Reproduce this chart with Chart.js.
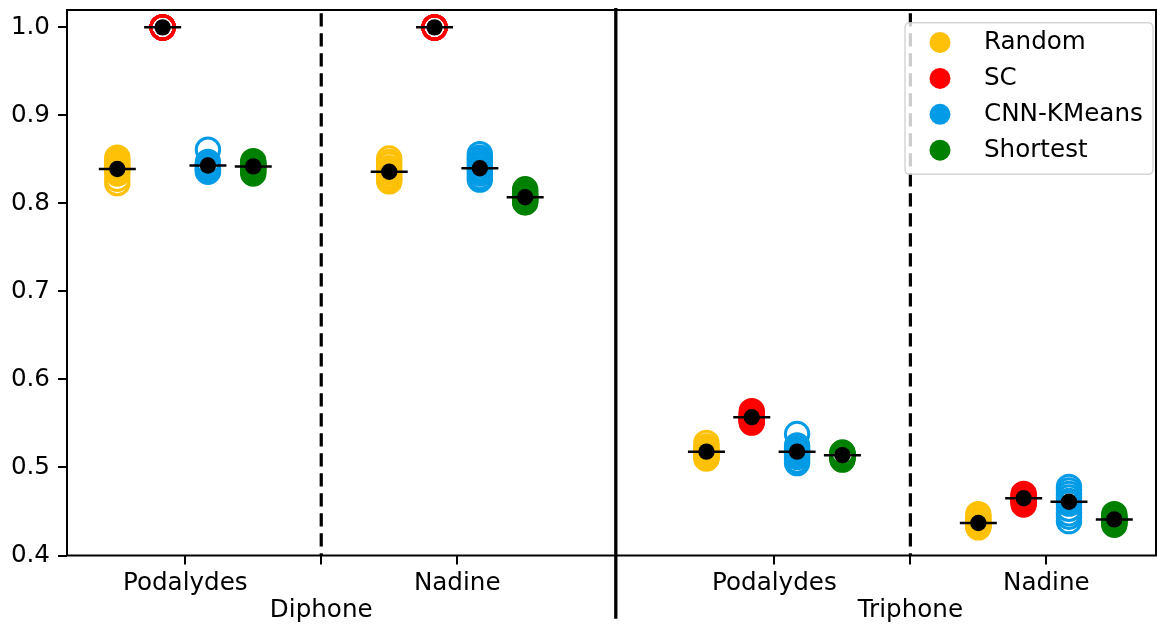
<!DOCTYPE html>
<html><head><meta charset="utf-8">
<script src="https://cdn.jsdelivr.net/npm/chart.js@4/dist/chart.umd.min.js"></script>
<style>html,body{margin:0;padding:0;background:#fff;overflow:hidden}</style>
</head><body>
<canvas id="c" width="1157" height="626"></canvas>
<script>
// ---- data ----
const groupNames = ['Podalydes', 'Nadine', 'Podalydes', 'Nadine'];
const sectionNames = ['Diphone', 'Triphone'];
const methods = ['Random', 'SC', 'CNN-KMeans', 'Shortest'];
const yTicks = [0.4, 0.5, 0.6, 0.7, 0.8, 0.9, 1.0];

// runs per group: [Diphone-Podalydes, Diphone-Nadine, Triphone-Podalydes, Triphone-Nadine]
const randomRuns = [
  [0.852, 0.849, 0.846, 0.843, 0.841, 0.839, 0.837, 0.834, 0.828, 0.823],
  [0.851, 0.847, 0.844, 0.840, 0.837, 0.835, 0.832, 0.830, 0.827, 0.825],
  [0.528, 0.524, 0.521, 0.519, 0.517, 0.515, 0.514, 0.512, 0.511, 0.510],
  [0.447, 0.444, 0.441, 0.439, 0.437, 0.436, 0.435, 0.434, 0.433, 0.432]
];
const scRuns = [
  [1.0, 1.0, 1.0, 1.0, 1.0, 1.0, 1.0, 1.0, 1.0, 1.0],
  [1.0, 1.0, 1.0, 1.0, 1.0, 1.0, 1.0, 1.0, 1.0, 1.0],
  [0.564, 0.561, 0.559, 0.557, 0.556, 0.555, 0.554, 0.553, 0.552, 0.551],
  [0.470, 0.468, 0.467, 0.465, 0.464, 0.463, 0.462, 0.461, 0.460, 0.458]
];
const cnnRuns = [
  [0.861, 0.847, 0.845, 0.844, 0.842, 0.840, 0.839, 0.838, 0.837, 0.836],
  [0.856, 0.852, 0.849, 0.846, 0.843, 0.840, 0.837, 0.834, 0.830, 0.827],
  [0.538, 0.525, 0.522, 0.520, 0.518, 0.516, 0.514, 0.512, 0.508, 0.505],
  [0.478, 0.474, 0.470, 0.466, 0.462, 0.459, 0.453, 0.448, 0.444, 0.439]
];
const shortestRuns = [
  [0.848, 0.846, 0.845, 0.843, 0.842, 0.841, 0.840, 0.838, 0.836, 0.834],
  [0.816, 0.813, 0.811, 0.809, 0.807, 0.806, 0.805, 0.804, 0.802, 0.801],
  [0.517, 0.516, 0.515, 0.514, 0.513, 0.513, 0.512, 0.511, 0.510, 0.509],
  [0.447, 0.445, 0.443, 0.442, 0.441, 0.440, 0.439, 0.438, 0.436, 0.435]
];
const randomMean   = [0.839, 0.836, 0.518, 0.437];
const scMean       = [1.000, 1.000, 0.557, 0.465];
const cnnMean      = [0.843, 0.840, 0.518, 0.461];
const shortestMean = [0.842, 0.807, 0.514, 0.441];

// ---- layout config ----
const groupX = [0, 6, 13, 19];
const methodOffset = [-1.5, -0.5, 0.5, 1.5];
const dashedX = [3, 16];
const solidX = 9.5;
const colors = ['#FFC107', '#FF0000', '#039BE5', '#008000'];
const FONT = 'DejaVu Sans';
const FSIZE = 24.6;

const allRuns = [randomRuns, scRuns, cnnRuns, shortestRuns];
const allMeans = [randomMean, scMean, cnnMean, shortestMean];

const meanPts = [];
allMeans.forEach((m, mi) => m.forEach((v, gi) => meanPts.push({x: groupX[gi] + methodOffset[mi], y: v})));

const datasets = [
  {label: 'mean', data: meanPts, pointStyle: 'circle', pointRadius: 8.2, pointBackgroundColor: '#000', pointBorderWidth: 0, showLine: false},
  {label: 'meanline', data: meanPts, pointStyle: 'line', pointRadius: 18.5, pointBorderColor: '#000', pointBorderWidth: 2.5, showLine: false}
];
allRuns.forEach((runs, mi) => {
  const pts = [];
  runs.forEach((arr, gi) => arr.forEach(v => pts.push({x: groupX[gi] + methodOffset[mi], y: v})));
  datasets.push({label: methods[mi], data: pts, pointStyle: 'circle', pointRadius: 11.7,
    pointBackgroundColor: 'rgba(0,0,0,0)', pointBorderColor: colors[mi], pointBorderWidth: 3, showLine: false});
});

const xTickVals = [groupX[0], dashedX[0], groupX[1], groupX[2], dashedX[1], groupX[3]];
function xLabel(v) {
  const gi = groupX.indexOf(v);
  if (gi >= 0) return groupNames[gi];
  const di = dashedX.indexOf(v);
  if (di >= 0) return ['', sectionNames[di]];
  return '';
}
function zeroPad(s) { s.paddingTop = 0; s.paddingBottom = 0; s.paddingLeft = 0; s.paddingRight = 0; }

const decor = {
  id: 'decor',
  beforeDatasetsDraw(chart) {
    const {ctx, chartArea: a, scales: {x}} = chart;
    ctx.save();
    ctx.strokeStyle = '#000';
    ctx.lineWidth = 3.2;
    ctx.setLineDash([13.3, 6.7]);
    ctx.lineDashOffset = 16.7;
    dashedX.forEach(v => {
      const px = x.getPixelForValue(v);
      ctx.beginPath(); ctx.moveTo(px, a.top); ctx.lineTo(px, a.bottom); ctx.stroke();
    });
    ctx.restore();
  },
  afterDraw(chart) {
    const {ctx, chartArea: a, scales: {x}} = chart;
    ctx.save();
    // frame
    ctx.strokeStyle = '#000'; ctx.lineWidth = 2;
    ctx.strokeRect(a.left, a.top, a.right - a.left, a.bottom - a.top);
    // solid separator
    const sx = x.getPixelForValue(solidX);
    ctx.lineWidth = 3.3;
    ctx.beginPath(); ctx.moveTo(sx, a.top - 2); ctx.lineTo(sx, 618.7); ctx.stroke();
    // legend
    const bx = a.right - 251, by = a.top + 12.7, bw = 248, bh = 151.5, r = 5;
    ctx.beginPath();
    ctx.moveTo(bx + r, by); ctx.lineTo(bx + bw - r, by); ctx.quadraticCurveTo(bx + bw, by, bx + bw, by + r);
    ctx.lineTo(bx + bw, by + bh - r); ctx.quadraticCurveTo(bx + bw, by + bh, bx + bw - r, by + bh);
    ctx.lineTo(bx + r, by + bh); ctx.quadraticCurveTo(bx, by + bh, bx, by + bh - r);
    ctx.lineTo(bx, by + r); ctx.quadraticCurveTo(bx, by, bx + r, by);
    ctx.closePath();
    ctx.fillStyle = 'rgba(255,255,255,0.8)'; ctx.fill();
    ctx.strokeStyle = 'rgba(204,204,204,0.8)'; ctx.lineWidth = 1.5; ctx.stroke();
    ctx.font = FSIZE + 'px "' + FONT + '"';
    ctx.textBaseline = 'middle'; ctx.textAlign = 'left';
    methods.forEach((m, i) => {
      const cy = by + 19.8 + i * 35.9;
      ctx.beginPath(); ctx.arc(bx + 35, cy, 10.5, 0, Math.PI * 2);
      ctx.fillStyle = colors[i]; ctx.fill();
      ctx.fillStyle = '#000';
      ctx.fillText(m, bx + 79, cy + 0.5);
    });
    ctx.restore();
  }
};

new Chart(document.getElementById('c'), {
  type: 'scatter',
  data: {datasets},
  options: {
    responsive: false, devicePixelRatio: 1, animation: false,
    layout: {autoPadding: false, padding: {top: 10, right: 1, left: 0, bottom: 0}},
    plugins: {legend: {display: false}, tooltip: {enabled: false}},
    elements: {point: {hoverRadius: 0}},
    scales: {
      x: {
        type: 'linear', min: -2.61, max: 21.42,
        afterBuildTicks: s => { s.ticks = xTickVals.map(v => ({value: v})); },
        afterFit: s => { s.height = 70.5; zeroPad(s); },
        grid: {drawOnChartArea: false, drawTicks: true, tickLength: 9, color: '#000', lineWidth: 2},
        border: {display: false},
        ticks: {autoSkip: false, maxRotation: 0, color: '#000', padding: 5.5,
          font: {family: FONT, size: FSIZE, lineHeight: 1.1},
          callback: v => xLabel(v)}
      },
      y: {
        type: 'linear', min: 0.4, max: 1.0197,
        afterBuildTicks: s => { s.ticks = yTicks.map(v => ({value: v})); },
        afterFit: s => { s.width = 67; zeroPad(s); },
        grid: {drawOnChartArea: false, drawTicks: true, tickLength: 9, color: '#000', lineWidth: 2},
        border: {display: false},
        ticks: {color: '#000', padding: 8, font: {family: FONT, size: FSIZE},
          callback: v => Number(v).toFixed(1)}
      }
    }
  },
  plugins: [decor]
});
</script>
</body></html>
